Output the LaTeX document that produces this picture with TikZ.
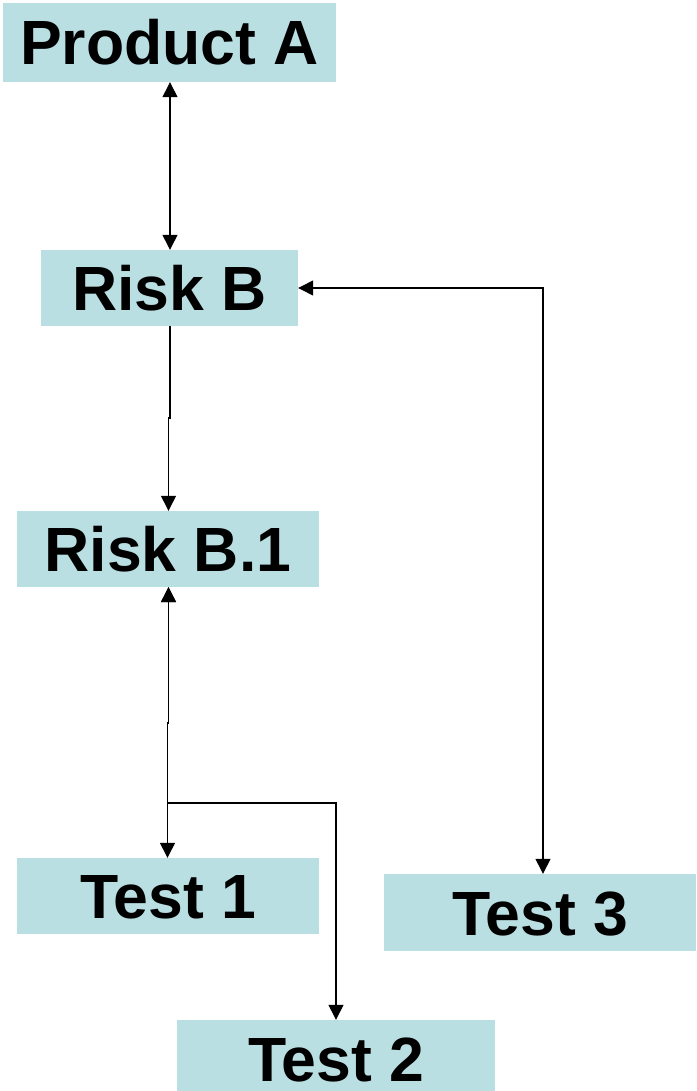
\documentclass[tikz,border=0pt]{standalone}
\usepackage{fontspec}
\setmainfont{Liberation Sans}
\usetikzlibrary{arrows.meta}
\definecolor{boxfill}{RGB}{185,223,226}
\begin{document}
\begin{tikzpicture}[x=1pt,y=-1pt,
  box/.style={fill=boxfill, draw=none, inner sep=0pt,
    font=\fontsize{62.5}{62.5}\selectfont\bfseries, text height=45pt, text depth=0pt},
  link/.style={draw=black, line width=1.3pt,
    >={Triangle[width=15pt,length=15pt]}}]
\useasboundingbox (0,0) rectangle (696,1091);

% boxes
\node[box, minimum width=333pt, minimum height=79pt] (pa)  at (169.5,42.5) {Product A};
\node[box, minimum width=257pt, minimum height=76pt] (rb)  at (169.5,288)  {Risk B};
\node[box, minimum width=302pt, minimum height=76pt] (rb1) at (168,549)    {Risk B.1};
\node[box, minimum width=302pt, minimum height=76pt] (t1)  at (168,896)    {Test 1};
\node[box, minimum width=312pt, minimum height=77pt] (t3)  at (540,912.5)  {Test 3};
\node[box, minimum width=318pt, minimum height=71pt, text height=52pt] (t2) at (336,1055.5) {Test 2};

% routing guides
\coordinate (cA) at (170,0);
\coordinate (cB) at (168.5,0);
\coordinate (cC) at (167.5,0);
\coordinate (c2) at (336,0);
\coordinate (c3) at (543,0);
\coordinate (jog1) at (0,418);
\coordinate (jog2) at (0,723);
\coordinate (split) at (167.5,803);

% connectors
\draw[link,<->] (pa.south -| cA) -- (rb.north -| cA);
\draw[link,->] (rb.south -| cA) |- (jog1 -| cB) -- (rb1.north -| cB);
\draw[link,<->] (rb1.south -| cB) |- (jog2 -| cC) -- (t1.north -| cC);
\draw[link,<->] (rb1.south -| cB) |- (jog2 -| cC) -- (split) -- (split -| c2) -- (t2.north -| c2);
\draw[link,<->] (rb.east) -- (rb.east -| c3) -- (t3.north -| c3);
\end{tikzpicture}
\end{document}
